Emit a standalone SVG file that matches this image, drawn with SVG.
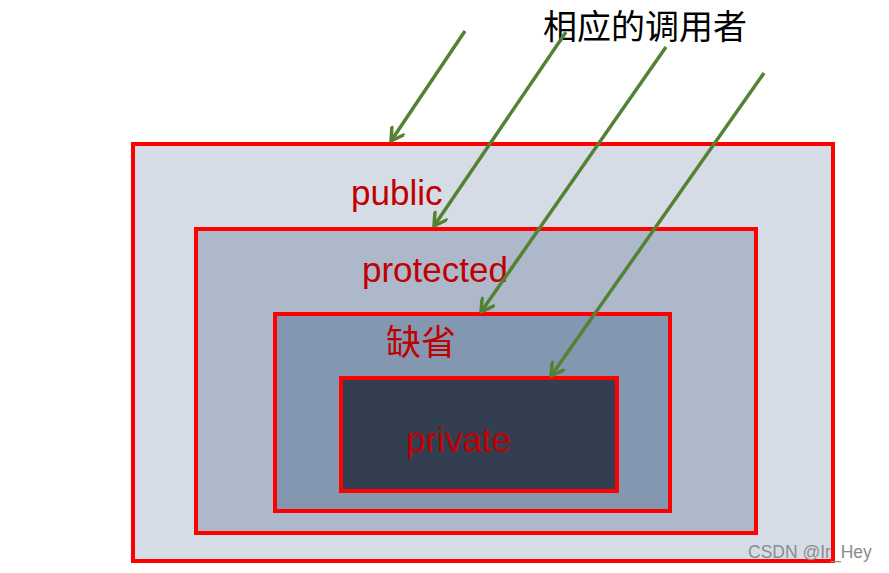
<svg xmlns="http://www.w3.org/2000/svg" width="889" height="573" viewBox="0 0 889 573">
<style>
.box{stroke:#FF0000;stroke-width:4}
.lbl{font-family:"Liberation Sans",Arial,sans-serif;font-size:35px;fill:#C00000}
.cjk{font-family:"Noto Sans CJK SC",sans-serif}
.conn{stroke:#548235;stroke-width:3.5;fill:none;marker-end:url(#ah)}
</style>
<defs>
<marker id="ah" viewBox="0 0 16 16" refX="14" refY="8" markerWidth="16" markerHeight="16" markerUnits="userSpaceOnUse" orient="auto">
<path d="M2,1 L14,8 L2,15" fill="none" stroke="#548235" stroke-width="3.5" stroke-linecap="round" stroke-linejoin="round"/>
</marker>
</defs>
<rect width="889" height="573" fill="#FFFFFF"/>
<g id="public">
<rect class="box" x="133" y="144" width="700" height="417" fill="#D6DCE5"/>
<text class="lbl" x="351" y="205">public</text>
</g>
<g id="protected">
<rect class="box" x="196" y="229" width="560" height="304" fill="#ADB9CA"/>
<text class="lbl" x="362" y="282">protected</text>
</g>
<g id="default">
<rect class="box" x="275" y="314" width="395" height="197" fill="#8497B0"/>
<text class="lbl cjk" x="386" y="355" font-size="33">缺省</text>
</g>
<g id="private">
<rect class="box" x="341" y="378" width="276" height="113" fill="#333F50"/>
<text class="lbl" x="406" y="452">private</text>
</g>
<g id="caller">
<text class="cjk" x="543" y="39" font-size="34" fill="#000000">相应的调用者</text>
</g>
<g id="connectors">
<line class="conn" x1="465" y1="31" x2="391" y2="141"/>
<line class="conn" x1="566" y1="32" x2="434" y2="226"/>
<line class="conn" x1="666" y1="47" x2="481" y2="312"/>
<line class="conn" x1="764" y1="73" x2="551" y2="376"/>
</g>
<text x="748" y="558" font-family="Liberation Sans,Arial,sans-serif" font-size="17.5" fill="#8C8C8C">CSDN @Ir_Hey</text>
</svg>
